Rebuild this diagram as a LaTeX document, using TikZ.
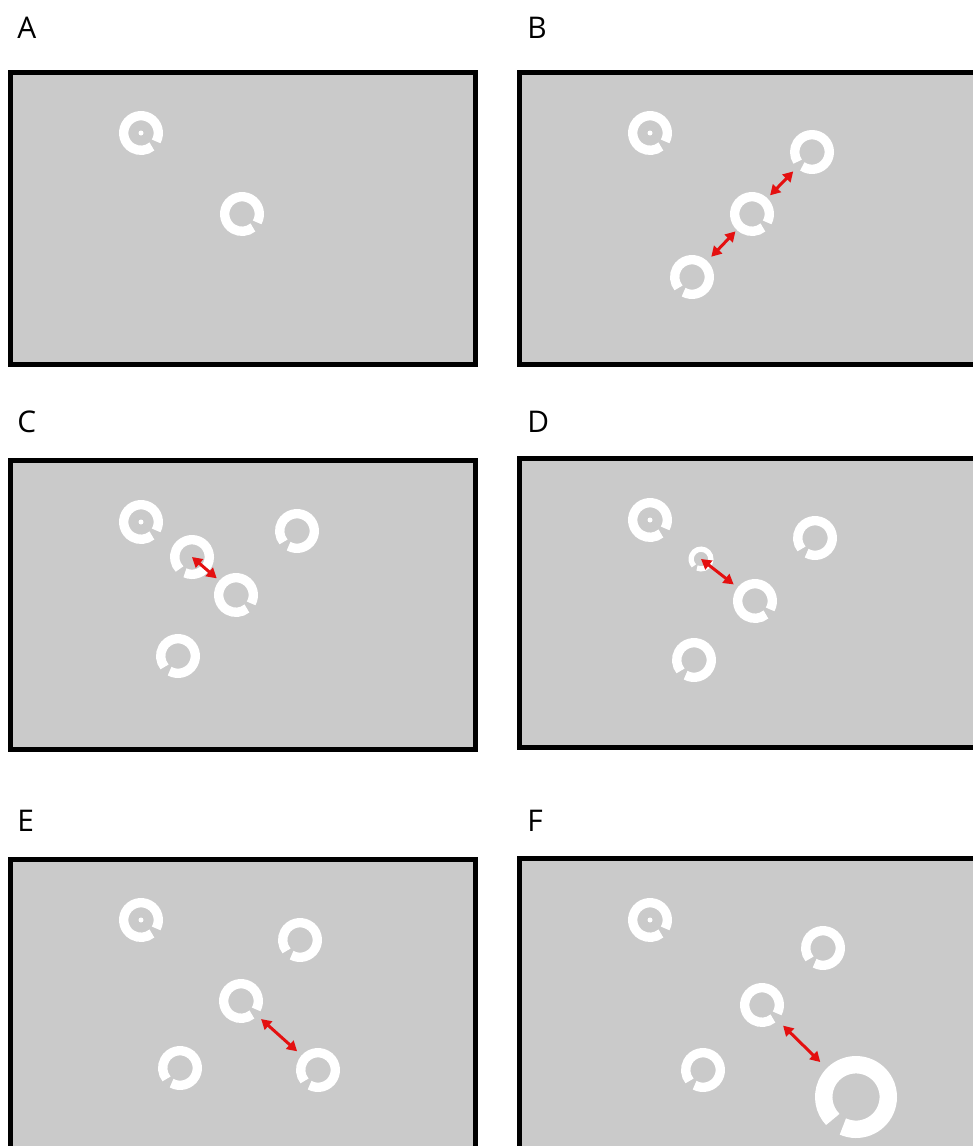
\documentclass[tikz,border=0pt]{standalone}
\usepackage{fontspec}
\setmainfont{Open Sans}
\usetikzlibrary{arrows.meta}
\definecolor{panelgray}{RGB}{202,202,202}
\definecolor{arrowred}{RGB}{228,16,16}

% Landolt ring: name, centre, outer radius, direction of the gap
\newcommand{\Cring}[4]{%
  \node[ringspot, minimum size=#3*0.04cm] (#1) at (#2) {};
  \draw[ringline, line width=#3*0.0085cm] (#1.center) ++(#4+11:#3*0.01575cm)
    arc[start angle=#4+11, delta angle=338, radius=#3*0.01575cm];}

\tikzset{
  panel/.style={draw=black, line width=0.1cm, fill=panelgray},
  ringspot/.style={circle, inner sep=0pt, outer sep=0pt, draw=none},
  ringline/.style={draw=white, line cap=butt},
  dot/.style={fill=white},
  letter/.style={anchor=base west, inner sep=0pt, font=\fontsize{17}{20}\selectfont},
  spacing/.style={draw=arrowred, line width=0.06cm, {Triangle[length=0.2cm, width=0.22cm]}-{Triangle[length=0.2cm, width=0.22cm]}}
}

\begin{document}
\begin{tikzpicture}[x=0.02cm, y=0.02cm]
\useasboundingbox (0,0) rectangle (973,-1146);
\clip (0,0) rectangle (973,-1146);

% panel labels
\node[letter] (labA) at (17,-38) {A};
\node[letter] (labB) at (527,-38) {B};
\node[letter] (labC) at (17,-432) {C};
\node[letter] (labD) at (527,-432) {D};
\node[letter] (labE) at (17,-831) {E};
\node[letter] (labF) at (527,-831) {F};

% frames
\draw[panel] (10.5,-72.5) rectangle (475.5,-364.5);
\draw[panel] (519.5,-72.5) rectangle (990,-364.5);
\draw[panel] (10.5,-460.5) rectangle (475.5,-749.5);
\draw[panel] (519.5,-458.5) rectangle (990,-747.5);
\draw[panel] (10.5,-859.5) rectangle (475.5,-1160);
\draw[panel] (519.5,-858.5) rectangle (990,-1160);

% A: fixation and target
\Cring{fixA}{141,-133}{22}{-40}
\fill[dot] (fixA.center) circle[radius=0.05cm];
\Cring{tarA}{242,-214}{22}{-40}

% B: target with two flankers
\Cring{fixB}{650,-133}{22}{-40}
\fill[dot] (fixB.center) circle[radius=0.05cm];
\Cring{tarB}{752,-214}{22}{-40}
\Cring{upB}{812,-152}{22}{-135}
\Cring{loB}{692,-277}{22}{-130}
\draw[spacing, shorten <=0.08cm, shorten >=0.1cm] (tarB) -- (upB);
\draw[spacing, shorten <=0.12cm, shorten >=0.04cm] (loB) -- (tarB);

% C
\Cring{fixC}{141,-522}{22}{-40}
\fill[dot] (fixC.center) circle[radius=0.05cm];
\Cring{flC}{192,-557}{22}{-125}
\Cring{tarC}{236,-595}{22}{-40}
\Cring{urC}{297,-531}{22}{-130}
\Cring{loC}{178,-656}{22}{-130}
\draw[spacing, shorten >=0.07cm] (flC.center) -- (tarC);

% D
\Cring{fixD}{650,-520}{22}{-40}
\fill[dot] (fixD.center) circle[radius=0.05cm];
\Cring{smD}{701,-559}{12.5}{-125}
\Cring{tarD}{755,-601}{22}{-40}
\Cring{urD}{815,-538}{22}{-130}
\Cring{loD}{694,-660}{22}{-130}
\draw[spacing, shorten >=0.1cm] (smD.center) -- (tarD);

% E
\Cring{fixE}{141,-920}{22}{-40}
\fill[dot] (fixE.center) circle[radius=0.05cm];
\Cring{urE}{300,-940}{22}{-130}
\Cring{tarE}{241,-1001}{22}{-40}
\Cring{lrE}{318,-1070}{22}{-130}
\Cring{llE}{180,-1068}{22}{-130}
\draw[spacing, shorten <=0.1cm, shorten >=0.12cm] (tarE) -- (lrE);

% F
\Cring{fixF}{650,-920}{22}{-40}
\fill[dot] (fixF.center) circle[radius=0.05cm];
\Cring{urF}{823,-948}{22}{-130}
\Cring{tarF}{762,-1005}{22}{-40}
\Cring{bigF}{856,-1097}{41}{-125}
\Cring{llF}{703,-1070}{22}{-130}
\draw[spacing, shorten <=0.15cm, shorten >=0.18cm] (tarF) -- (bigF);
\end{tikzpicture}
\end{document}
